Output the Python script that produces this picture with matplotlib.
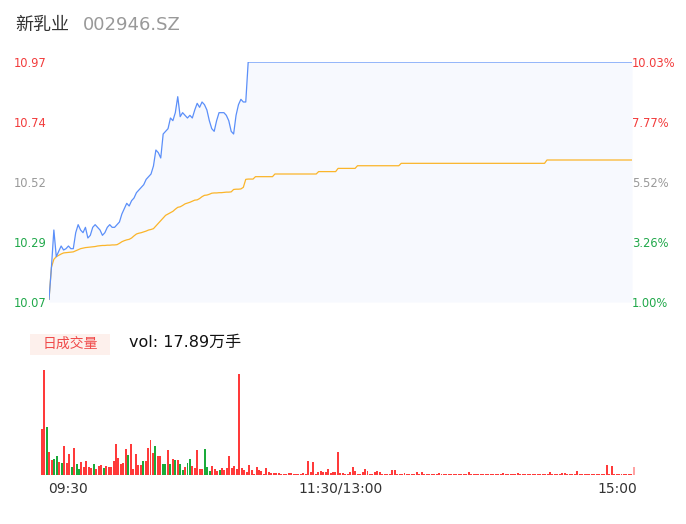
import matplotlib
matplotlib.use("Agg")
import matplotlib.pyplot as plt
import matplotlib.transforms as mtransforms
from matplotlib.patches import Rectangle
import numpy as np

# ---------------- data ----------------
stock_name = "新乳业"
stock_code = "002946.SZ"
total_vol_label = "vol: 17.89万手"

# minute prices (09:30 .. 15:00, 241 points)
price_am = [10.08, 10.20, 10.34, 10.24, 10.26, 10.28, 10.265, 10.27, 10.28, 10.27,
            10.27, 10.33, 10.36, 10.34, 10.33, 10.35, 10.31, 10.32, 10.35, 10.36,
            10.35, 10.34, 10.32, 10.33, 10.35, 10.36, 10.35, 10.35, 10.36, 10.37,
            10.40, 10.42, 10.44, 10.43, 10.45, 10.46, 10.48, 10.49, 10.50, 10.51,
            10.53, 10.54, 10.55, 10.58, 10.64, 10.63, 10.61, 10.70, 10.71, 10.72,
            10.76, 10.75, 10.78, 10.84, 10.765, 10.78, 10.77, 10.76, 10.77, 10.76,
            10.79, 10.815, 10.80, 10.82, 10.81, 10.79, 10.75, 10.72, 10.71, 10.75,
            10.78, 10.78, 10.78, 10.77, 10.75, 10.71, 10.70, 10.77, 10.81, 10.83,
            10.82, 10.82]
price_limit = [10.97] * 159
price = price_am + price_limit

avg_am = [10.08, 10.20, 10.23, 10.24, 10.245, 10.25, 10.254, 10.255, 10.256, 10.257,
          10.258, 10.262, 10.266, 10.27, 10.272, 10.274, 10.275, 10.276, 10.277, 10.278,
          10.28, 10.281, 10.282, 10.282, 10.283, 10.283, 10.284, 10.284, 10.285, 10.29,
          10.296, 10.30, 10.303, 10.305, 10.31, 10.318, 10.325, 10.328, 10.33, 10.333,
          10.336, 10.34, 10.342, 10.345, 10.355, 10.365, 10.375, 10.385, 10.395, 10.40,
          10.405, 10.41, 10.418, 10.425, 10.427, 10.432, 10.438, 10.441, 10.444, 10.448,
          10.452, 10.453, 10.458, 10.465, 10.47, 10.471, 10.474, 10.478, 10.479, 10.479,
          10.48, 10.48, 10.481, 10.482, 10.482, 10.483, 10.492, 10.493, 10.493, 10.494,
          10.50, 10.53]
avg_pm = ([10.531] * 3 + [10.54] * 8 + [10.55] * 18 + [10.559] * 8 +
          [10.571] * 8 + [10.581] * 18 + [10.59] * 60 + [10.6025] * 36)
avg_price = avg_am + avg_pm

# y-axis ticks
price_ticks = [10.07, 10.295, 10.52, 10.745, 10.97]
price_tick_labels = ["10.07", "10.29", "10.52", "10.74", "10.97"]
pct_tick_labels = ["1.00%", "3.26%", "5.52%", "7.77%", "10.03%"]
x_tick_labels = ["09:30", "11:30/13:00", "15:00"]

# minute volume (百手), 241 bars
vol_am = [46, 105, 48, 23, 15, 16, 19, 13, 12, 29,
          12, 21, 8, 27, 11, 6, 13, 8, 14, 8,
          7, 11, 6, 9, 10, 7, 9, 8, 8, 14,
          31, 17, 11, 12, 26, 20, 31, 6, 21, 10,
          10, 14, 14, 27, 35, 22, 29, 19, 19, 11,
          11, 25, 11, 16, 15, 15, 11, 5, 8, 12,
          16, 9, 7, 25, 6, 6, 26, 8, 4, 9,
          6, 4, 5, 7, 5, 7, 19, 7, 9, 6,
          101, 7, 5, 3, 10, 5, 1, 8, 5, 4,
          1, 7, 3, 2, 2, 2, 2, 0.6, 0.6, 0.6,
          2, 2, 0.6, 0.6, 0.6, 0.6, 2, 0.6, 14, 3,
          13, 1, 3, 4, 3, 3, 6, 2, 3, 3]
vol_pm = [23, 2, 2, 0.6, 0.6, 3, 8, 4, 0.6, 0.6,
          3, 6, 4, 0.6, 0.6, 3, 4, 3, 0.6, 0.6,
          0.6, 0.6, 5, 5, 0.6, 0.6, 0.6, 2, 0.6, 0.6,
          0.6, 0.6, 3, 0.6, 3, 0.6, 0.6, 0.6, 0.6, 0.6,
          0.6, 2, 0.6, 0.6, 0.6, 0.6, 0.6, 0.6, 0.6, 0.6,
          0.6, 0.6, 0.6, 3, 0.6, 0.6, 0.6, 0.6, 0.6, 0.6,
          0.6, 0.6, 0.6, 0.6, 0.6, 0.6, 0.6, 2, 0.6, 0.6,
          0.6, 0.6, 0.6, 2, 0.6, 0.6, 0.6, 0.6, 0.6, 0.6,
          0.6, 0.6, 0.6, 0.6, 0.6, 0.6, 3, 0.6, 0.6, 0.6,
          0.6, 2, 2, 0.6, 0.6, 0.6, 0.6, 4, 0.6, 0.6,
          0.6, 0.6, 0.6, 0.6, 0.6, 0.6, 0.6, 0.6, 0.6, 10,
          0.6, 9, 0.6, 0.6, 0.6, 0.6, 0.6, 0.6, 0.6, 0.6,
          8]
volume = vol_am + vol_pm

# bar direction: u = up (red), d = down (green), e = close (light)
dir_am = ("uudu udd udu uud udd uuu uud uuu duu uuu uuu ud"
          "uuuu udu uuu duu ddu dud udd udd uuu uud ddu uud u")
dir_am = dir_am.replace(" ", "")
bar_dir = list(dir_am) + ["u"] * (len(volume) - len(dir_am) - 1) + ["e"]

# ---------------- styling ----------------
RED = "#f23b3b"
GREEN = "#20a84a"
GREY = "#999999"
BLUE = "#5b8ff9"
YELLOW = "#fbb52a"
FILL = "#f7f9fe"
bar_colors = {"u": "#ff3a3a", "d": "#1aab3a", "e": "#ffa3a3"}

W, H = 686, 524
fig = plt.figure(figsize=(W / 100, H / 100), dpi=100)
fig.patch.set_facecolor("white")

cjk = ["Noto Sans CJK SC", "DejaVu Sans"]
mixed = ["DejaVu Sans", "Noto Sans CJK SC"]

fig.text(15 / W, 1 - 25 / H, stock_name, fontsize=13, color="#333333",
         family=cjk, va="center", ha="left")
fig.text(83 / W, 1 - 25 / H, stock_code, fontsize=13, color=GREY,
         family=mixed, va="center", ha="left")

# price axes
ax = fig.add_axes([49 / W, 222 / H, 583 / W, 240 / H])
x = np.arange(len(price))
ax.fill_between(x, price, price_ticks[0], color=FILL, lw=0, zorder=1)
ax.plot(x, price, color=BLUE, lw=0.9, zorder=3)
ax.plot(x, avg_price, color=YELLOW, lw=0.9, zorder=2)
ax.set_xlim(0, len(price) - 1)
ax.set_ylim(price_ticks[0], price_ticks[-1])
for s in ax.spines.values():
    s.set_visible(False)
ax.set_xticks([])
ax.set_yticks(price_ticks)
ax.set_yticklabels(price_tick_labels)
ax.tick_params(axis="y", length=0, pad=1.5, labelsize=8.3)
tick_cols = [GREEN, GREEN, GREY, RED, RED]
for lab, c in zip(ax.get_yticklabels(), tick_cols):
    lab.set_color(c)

axr = ax.twinx()
axr.set_ylim(ax.get_ylim())
axr.set_yticks(price_ticks)
axr.set_yticklabels(pct_tick_labels)
axr.tick_params(axis="y", length=0, pad=0, labelsize=8.3)
for lab, c in zip(axr.get_yticklabels(), tick_cols):
    lab.set_color(c)
for s in axr.spines.values():
    s.set_visible(False)

# volume header
fig.patches.append(Rectangle((30 / W, 1 - 355 / H), 80 / W, 21 / H,
                             transform=fig.transFigure, facecolor="#fdf0ec",
                             edgecolor="none"))
fig.text(70 / W, 1 - 344 / H, "日成交量", fontsize=10, color="#f04a4a",
         family=cjk, ha="center", va="center")
fig.text(129 / W, 1 - 342 / H, total_vol_label, fontsize=11.5, color="#111111",
         family=mixed, ha="left", va="center")

# volume axes
pitch = 2.466
left = 42 - pitch / 2
axv = fig.add_axes([left / W, 49 / H, pitch * len(volume) / W, 105 / H])
xv = np.arange(len(volume))
axv.bar(xv, volume, width=0.8, color=[bar_colors[d] for d in bar_dir],
        lw=0, zorder=2)
axv.axhline(0, color="#dddddd", lw=1, zorder=1)
axv.set_xlim(-0.5, len(volume) - 0.5)
axv.set_ylim(0, max(volume))
axv.axis("off")

# time labels (in price-axis x coordinates)
trans = mtransforms.blended_transform_factory(ax.transData, fig.transFigure)
tick_pos = [0, 120, 240]
aligns = ["left", "center", "right"]
for p, lab, al in zip(tick_pos, x_tick_labels, aligns):
    off = -1 if al == "left" else (5 if al == "right" else 0)
    fig.text(p, 1 - 489 / H, lab, transform=trans + mtransforms.Affine2D().translate(off, 0),
             fontsize=10, color="#333333", ha=al, va="center")

fig.savefig("out.png", dpi=100)
